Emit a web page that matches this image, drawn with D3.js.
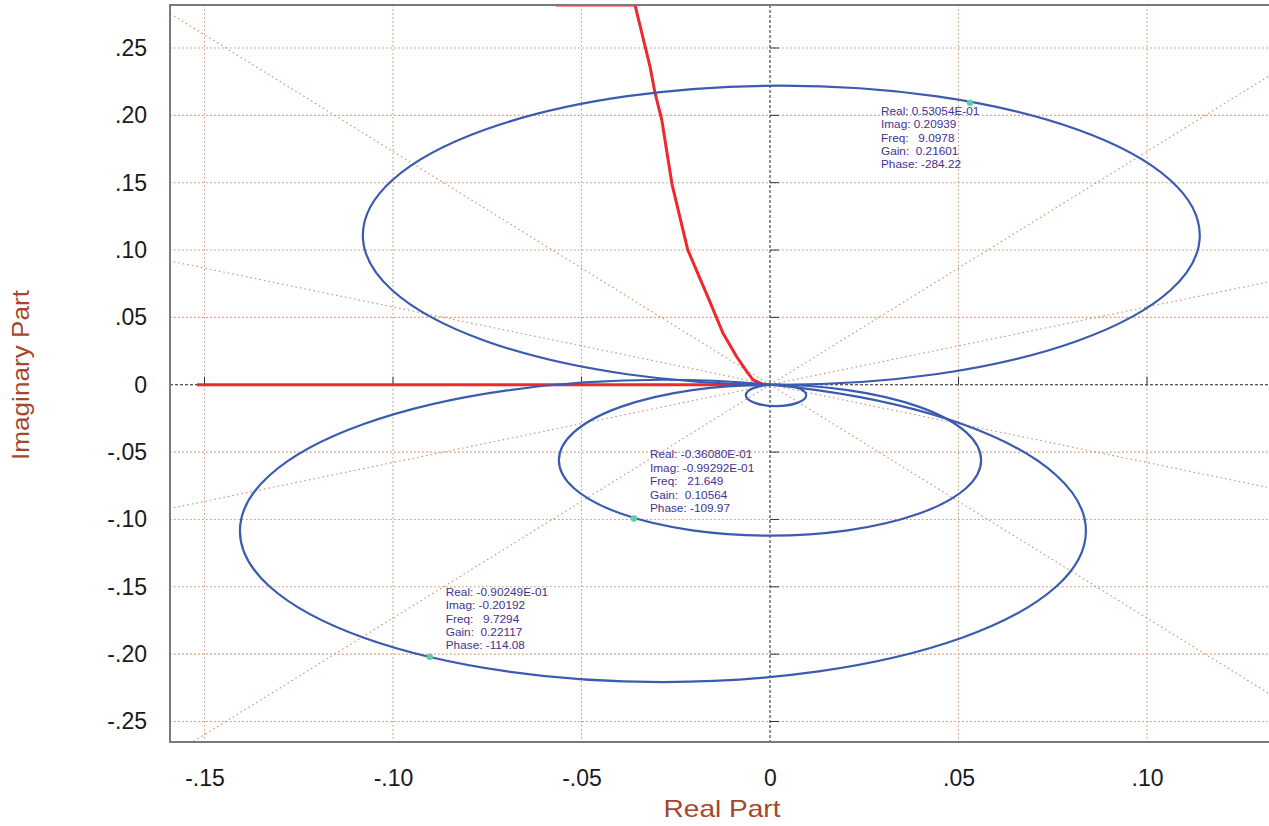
<!DOCTYPE html>
<html>
<head>
<meta charset="utf-8">
<script src="https://cdn.jsdelivr.net/npm/d3@7"></script>
<style>
  body { margin: 0; background: #fff; }
  text { font-family: "Liberation Sans", Arial, sans-serif; }
</style>
</head>
<body>
<svg id="chart" width="1269" height="826"></svg>
<script>
// ---- data -------------------------------------------------------------
const xTicks = [-0.15, -0.10, -0.05, 0, 0.05, 0.10];
const yTicks = [-0.25, -0.20, -0.15, -0.10, -0.05, 0, 0.05, 0.10, 0.15, 0.20, 0.25];

// Nyquist loops, each a circle through the origin: centre (re, im) and radius
const loopCenterRe = [0.0030, -0.0284, 0.0000, 0.0016];
const loopCenterIm = [0.1110, -0.1085, -0.0560, -0.0078];
const loopRadius   = [0.1110, 0.1122, 0.0560, 0.0080];

// second response (red): branch leaving through the top edge, and the negative real axis
const redRe = [-0.0568, -0.0358, -0.0318, -0.0305, -0.0287, -0.0260, -0.0218, -0.0159, -0.0125, -0.0088, -0.0061, -0.0045, -0.0021, 0.0000];
const redIm = [ 0.2819,  0.2819,  0.2359,  0.2166,  0.1966,  0.1490,  0.1000,  0.0614,  0.0384,  0.0206,  0.0095,  0.0036,  0.0006, 0.0000];
const redAxisRe = [-0.152, 0.0];
const redAxisIm = [0.0, 0.0];

// constant-angle guide rays from the origin (degrees)
const rayAngles = [30, 60, 120, 150, 210, 240, 300, 330];

// cursor readouts
const cursorRe    = [0.053054, -0.036080, -0.090249];
const cursorIm    = [0.20939, -0.099292, -0.20192];
const cursorReTxt = ["0.53054E-01", "-0.36080E-01", "-0.90249E-01"];
const cursorImTxt = ["0.20939", "-0.99292E-01", "-0.20192"];
const cursorFreq  = ["9.0978", "21.649", "9.7294"];
const cursorGain  = ["0.21601", "0.10564", "0.22117"];
const cursorPhase = ["-284.22", "-109.97", "-114.08"];

// ---- layout -----------------------------------------------------------
const W = 1269, H = 826;
const plot = { left: 170, top: 5, right: 1272, bottom: 742 };
const labelOffset = [[-89, 8], [16, -64], [16, -65]];

const svg = d3.select("#chart");
svg.append("rect").attr("width", W).attr("height", H).attr("fill", "#fff");

const x = d3.scaleLinear().domain([-0.15, 0.10]).range([204.5, 1147]);
const y = d3.scaleLinear().domain([-0.25, 0.25]).range([721.5, 48]);

svg.append("clipPath").attr("id", "plotClip")
  .append("rect")
  .attr("x", plot.left).attr("y", plot.top)
  .attr("width", plot.right - plot.left).attr("height", plot.bottom - plot.top);

const g = svg.append("g").attr("clip-path", "url(#plotClip)");

const gridColor = "#c6957a";

// grid
g.selectAll(".vgrid").data(xTicks.filter(d => d !== 0)).join("line")
  .attr("x1", d => x(d)).attr("x2", d => x(d))
  .attr("y1", plot.top).attr("y2", plot.bottom)
  .attr("stroke", gridColor).attr("stroke-width", 1.1).attr("stroke-dasharray", "1.6,2.4");
g.selectAll(".hgrid").data(yTicks.filter(d => d !== 0)).join("line")
  .attr("y1", d => y(d)).attr("y2", d => y(d))
  .attr("x1", plot.left).attr("x2", plot.right)
  .attr("stroke", gridColor).attr("stroke-width", 1.1).attr("stroke-dasharray", "1.6,2.4");

// guide rays
const rayLen = 1.0;
g.selectAll(".ray").data(rayAngles).join("line")
  .attr("x1", x(0)).attr("y1", y(0))
  .attr("x2", a => x(rayLen * Math.cos(a * Math.PI / 180)))
  .attr("y2", a => y(rayLen * Math.sin(a * Math.PI / 180)))
  .attr("stroke", gridColor).attr("stroke-width", 1.1).attr("stroke-dasharray", "1.6,3");

// zero axes (dashed) with small tick marks
g.append("line").attr("x1", x(0)).attr("x2", x(0)).attr("y1", plot.top).attr("y2", plot.bottom)
  .attr("stroke", "#222").attr("stroke-width", 1).attr("stroke-dasharray", "3,2");
g.append("line").attr("y1", y(0)).attr("y2", y(0)).attr("x1", plot.left).attr("x2", plot.right)
  .attr("stroke", "#222").attr("stroke-width", 1).attr("stroke-dasharray", "3,2");
g.selectAll(".ytk").data(yTicks.filter(d => d !== 0)).join("line")
  .attr("x1", x(0)).attr("x2", x(0) + 9).attr("y1", d => y(d)).attr("y2", d => y(d))
  .attr("stroke", "#333").attr("stroke-width", 1);
g.selectAll(".xtk").data(xTicks.filter(d => d !== 0)).join("line")
  .attr("x1", d => x(d)).attr("x2", d => x(d)).attr("y1", y(0)).attr("y2", y(0) - 8)
  .attr("stroke", "#333").attr("stroke-width", 1);

// red response
const line = d3.line().x(d => x(d[0])).y(d => y(d[1]));
g.append("path").datum(redAxisRe.map((r, i) => [r, redAxisIm[i]]))
  .attr("d", line).attr("fill", "none").attr("stroke", "#f0282d").attr("stroke-width", 3);
g.append("path").datum(redRe.map((r, i) => [r, redIm[i]]))
  .attr("d", line).attr("fill", "none").attr("stroke", "#f0282d").attr("stroke-width", 3)
  .attr("stroke-linejoin", "round");

// blue Nyquist loops
g.selectAll(".loop").data(loopRadius.map((r, i) => ({ cx: loopCenterRe[i], cy: loopCenterIm[i], r })))
  .join("ellipse")
  .attr("cx", d => x(d.cx)).attr("cy", d => y(d.cy))
  .attr("rx", d => x(d.cx + d.r) - x(d.cx))
  .attr("ry", d => y(d.cy) - y(d.cy + d.r))
  .attr("fill", "none").attr("stroke", "#3b5bb0").attr("stroke-width", 2.2);

// cursor markers and readouts
const cursors = cursorRe.map((re, i) => ({
  re, im: cursorIm[i],
  lines: ["Real: " + cursorReTxt[i], "Imag: " + cursorImTxt[i], "Freq:   " + cursorFreq[i],
          "Gain:  " + cursorGain[i], "Phase: " + cursorPhase[i]],
  off: labelOffset[i]
}));
g.selectAll(".cursor").data(cursors).join("circle")
  .attr("cx", d => x(d.re)).attr("cy", d => y(d.im)).attr("r", 3.2)
  .attr("fill", "#5ccfa6");
const ro = svg.selectAll(".readout").data(cursors).join("text")
  .attr("x", d => x(d.re) + d.off[0]).attr("y", d => y(d.im) + d.off[1] + 4)
  .attr("font-size", "11.8px").attr("fill", "#42318f").style("white-space", "pre");
ro.selectAll("tspan").data(d => d.lines.map(t => ({ t, x: x(d.re) + d.off[0] }))).join("tspan")
  .attr("x", d => d.x).attr("dy", (d, i) => i === 0 ? 0 : 13.4).text(d => d.t);

// frame
svg.append("path")
  .attr("d", `M${plot.right},${plot.top}H${plot.left}V${plot.bottom}H${plot.right}`)
  .attr("fill", "none").attr("stroke", "#7a7a7a").attr("stroke-width", 2);

// axes (plain hyphen for negative values)
const fmt = v => Math.abs(v) < 1e-9 ? "0" : d3.format(".2f")(v).replace("\u2212", "-").replace("0.", ".");
const xAxis = svg.append("g").attr("transform", `translate(0,${plot.bottom})`)
  .call(d3.axisBottom(x).tickValues(xTicks).tickFormat(fmt).tickSize(0).tickPadding(28));
const yAxis = svg.append("g").attr("transform", `translate(${plot.left},0)`)
  .call(d3.axisLeft(y).tickValues(yTicks).tickFormat(fmt).tickSize(0).tickPadding(23));
[xAxis, yAxis].forEach(a => {
  a.select(".domain").remove();
  a.selectAll("text").attr("font-size", "23px").attr("fill", "#1a1a1a")
    .attr("font-family", "Liberation Sans, Arial, sans-serif");
});

// axis titles
svg.append("text").attr("x", 722).attr("y", 817).attr("text-anchor", "middle")
  .attr("font-size", "24px").attr("fill", "#a5472c")
  .attr("textLength", 117).attr("lengthAdjust", "spacingAndGlyphs")
  .text("Real Part");
svg.append("text").attr("transform", "translate(29,375) rotate(-90)").attr("text-anchor", "middle")
  .attr("font-size", "24px").attr("fill", "#a5472c")
  .attr("textLength", 170).attr("lengthAdjust", "spacingAndGlyphs")
  .text("Imaginary Part");
</script>
</body>
</html>
